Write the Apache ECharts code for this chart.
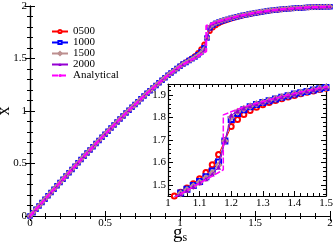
<!DOCTYPE html>
<html><head><meta charset="utf-8">
<script src="https://cdn.jsdelivr.net/npm/echarts@6/dist/echarts.min.js"></script>
<style>html,body{margin:0;padding:0;background:#fff}#c{width:335px;height:249px}</style>
</head><body><div id="c"></div>
<script>
// g_s grid of the simulation points
const gs = [0,0.02,0.04,0.06,0.08,0.10,0.12,0.14,0.16,0.18,
0.20,0.22,0.24,0.26,0.28,0.30,0.32,0.34,0.36,0.38,
0.40,0.42,0.44,0.46,0.48,0.50,0.52,0.54,0.56,0.58,
0.60,0.62,0.64,0.66,0.68,0.70,0.72,0.74,0.76,0.78,
0.80,0.82,0.84,0.86,0.88,0.90,0.92,0.94,0.96,0.98,
1.00,1.02,1.04,1.06,1.08,1.10,1.12,1.14,1.16,1.18,
1.20,1.22,1.24,1.26,1.28,1.30,1.32,1.34,1.36,1.38,
1.40,1.42,1.44,1.46,1.48,1.50,1.52,1.54,1.56,1.58,
1.60,1.62,1.64,1.66,1.68,1.70,1.72,1.74,1.76,1.78,
1.80,1.82,1.84,1.86,1.88,1.90,1.92,1.94,1.96,1.98,2.00];

const x0500 = [0,0.032,0.064,0.096,0.128,0.160,0.192,0.224,0.255,0.287,
0.319,0.350,0.382,0.413,0.444,0.475,0.506,0.537,0.568,0.599,
0.629,0.659,0.690,0.720,0.749,0.779,0.808,0.837,0.866,0.895,
0.924,0.952,0.980,1.008,1.035,1.062,1.089,1.116,1.142,1.168,
1.194,1.219,1.244,1.268,1.292,1.317,1.340,1.362,1.384,1.405,
1.428,1.450,1.467,1.486,1.505,1.527,1.555,1.590,1.635,1.697,
1.760,1.792,1.814,1.832,1.846,1.857,1.867,1.876,1.884,1.892,
1.899,1.906,1.913,1.919,1.925,1.931,1.936,1.941,1.946,1.950,
1.954,1.958,1.961,1.964,1.967,1.970,1.973,1.975,1.977,1.979,
1.981,1.983,1.985,1.986,1.988,1.989,1.990,1.991,1.992,1.993,1.994];

const x1000 = [0,0.032,0.064,0.096,0.128,0.160,0.192,0.224,0.255,0.287,
0.319,0.350,0.382,0.413,0.444,0.475,0.506,0.537,0.568,0.599,
0.629,0.659,0.690,0.720,0.749,0.779,0.808,0.837,0.866,0.895,
0.924,0.952,0.980,1.008,1.035,1.062,1.089,1.116,1.142,1.168,
1.194,1.219,1.244,1.268,1.292,1.317,1.340,1.362,1.384,1.405,
1.426,1.447,1.463,1.480,1.497,1.515,1.536,1.562,1.602,1.695,
1.792,1.818,1.835,1.848,1.858,1.867,1.875,1.883,1.891,1.898,
1.905,1.911,1.917,1.923,1.929,1.934,1.939,1.944,1.948,1.952,
1.956,1.960,1.963,1.966,1.969,1.972,1.974,1.976,1.978,1.980,
1.982,1.984,1.985,1.987,1.988,1.989,1.990,1.991,1.992,1.993,1.994];

const x1500 = [0,0.032,0.064,0.096,0.128,0.160,0.192,0.224,0.255,0.287,
0.319,0.350,0.382,0.413,0.444,0.475,0.506,0.537,0.568,0.599,
0.629,0.659,0.690,0.720,0.749,0.779,0.808,0.837,0.866,0.895,
0.924,0.952,0.980,1.008,1.035,1.062,1.089,1.116,1.142,1.168,
1.194,1.219,1.244,1.268,1.292,1.317,1.340,1.362,1.384,1.405,
1.425,1.445,1.461,1.477,1.494,1.511,1.530,1.553,1.588,1.695,
1.802,1.826,1.840,1.851,1.861,1.869,1.877,1.885,1.892,1.899,
1.906,1.912,1.918,1.924,1.930,1.935,1.940,1.945,1.949,1.953,
1.957,1.960,1.963,1.966,1.969,1.972,1.974,1.976,1.978,1.980,
1.982,1.984,1.986,1.987,1.988,1.989,1.990,1.991,1.992,1.993,1.994];

const x2000 = [0,0.032,0.064,0.096,0.128,0.160,0.192,0.224,0.255,0.287,
0.319,0.350,0.382,0.413,0.444,0.475,0.506,0.537,0.568,0.599,
0.629,0.659,0.690,0.720,0.749,0.779,0.808,0.837,0.866,0.895,
0.924,0.952,0.980,1.008,1.035,1.062,1.089,1.116,1.142,1.168,
1.194,1.219,1.244,1.268,1.292,1.317,1.340,1.362,1.384,1.405,
1.425,1.444,1.460,1.476,1.492,1.509,1.527,1.548,1.578,1.695,
1.810,1.830,1.843,1.853,1.862,1.870,1.878,1.886,1.893,1.900,
1.907,1.913,1.919,1.925,1.931,1.936,1.941,1.945,1.949,1.953,
1.957,1.961,1.964,1.967,1.970,1.972,1.975,1.977,1.979,1.981,
1.983,1.984,1.986,1.987,1.988,1.989,1.990,1.991,1.992,1.993,1.994];

// analytical curve (with the jump)
const anaG = [0,0.02,0.04,0.06,0.08,0.10,0.12,0.14,0.16,0.18,
0.20,0.22,0.24,0.26,0.28,0.30,0.32,0.34,0.36,0.38,
0.40,0.42,0.44,0.46,0.48,0.50,0.52,0.54,0.56,0.58,
0.60,0.62,0.64,0.66,0.68,0.70,0.72,0.74,0.76,0.78,
0.80,0.82,0.84,0.86,0.88,0.90,0.92,0.94,0.96,0.98,
1.00,1.02,1.04,1.06,1.08,1.10,1.12,1.14,1.16,1.175,1.175,
1.20,1.22,1.24,1.26,1.28,1.30,1.32,1.34,1.36,1.38,
1.40,1.42,1.44,1.46,1.48,1.50,1.52,1.54,1.56,1.58,
1.60,1.62,1.64,1.66,1.68,1.70,1.72,1.74,1.76,1.78,
1.80,1.82,1.84,1.86,1.88,1.90,1.92,1.94,1.96,1.98,2.00];
const anaX = [0,0.032,0.064,0.096,0.128,0.160,0.192,0.224,0.255,0.287,
0.319,0.350,0.382,0.413,0.444,0.475,0.506,0.537,0.568,0.599,
0.629,0.659,0.690,0.720,0.749,0.779,0.808,0.837,0.866,0.895,
0.924,0.952,0.980,1.008,1.035,1.062,1.089,1.116,1.142,1.168,
1.194,1.219,1.244,1.268,1.292,1.317,1.340,1.362,1.384,1.405,
1.425,1.443,1.459,1.475,1.491,1.507,1.523,1.539,1.555,1.567,1.812,
1.826,1.837,1.847,1.856,1.864,1.872,1.880,1.887,1.894,1.901,
1.908,1.914,1.920,1.926,1.932,1.937,1.942,1.946,1.950,1.954,
1.958,1.961,1.964,1.967,1.970,1.973,1.975,1.977,1.979,1.981,
1.983,1.985,1.986,1.988,1.989,1.990,1.991,1.992,1.993,1.994,1.995];

const insetYLabels = [1.5, 1.6, 1.7, 1.8, 1.9];
const insetYMinor = [1.46,1.48,1.52,1.54,1.56,1.58,1.62,1.64,1.66,1.68,1.72,1.74,1.76,1.78,1.82,1.84,1.86,1.88,1.92,1.94];

const names = ['0500','1000','1500','2000','Analytical'];
const colors = ['#ff0000','#0000ff','#bc8f8f','#9400d3','#ff00ff'];
const symbols = ['emptyCircle','emptyRect','emptyDiamond','triangle','none'];
const values = [x0500, x1000, x1500, x2000];

const FONT = 'Liberation Serif';
const lbl = {fontFamily: FONT, fontSize: 11, color: '#000', hideOverlap:false};
const axLine = {show: true, lineStyle: {color: '#000', width: 1.2}};

function pairs(g, v){ return g.map((a,i)=>[a, v[i]]); }

function mkX(grid, pos, min, max, interval, showLabel, extra){
  return Object.assign({
    type:'value', gridIndex: grid, position: pos, min, max, interval,
    axisLine: axLine, splitLine:{show:false},
    axisTick:{show:true, inside:true, length:5, lineStyle:{color:'#000'}},
    minorTick:{show:true, splitNumber:5, length:3, lineStyle:{color:'#000'}},
    axisLabel: Object.assign({show: showLabel, margin: 2}, lbl)
  }, extra||{});
}

const series = [];
[0,1].forEach(k=>{
  for(let i=0;i<4;i++){
    series.push({
      name: names[i], type:'line', xAxisIndex: k===0?0:2, yAxisIndex: k===0?0:2,
      data: pairs(gs, values[i]), symbol: symbols[i], symbolSize: k===0?3.5:5,
      lineStyle:{color: colors[i], width:1}, itemStyle:{color: colors[i], borderWidth:1},
      animation:false, clip:true, z: 2+i
    });
  }
  series.push({
    name: names[4], type:'line', xAxisIndex: k===0?0:2, yAxisIndex: k===0?0:2,
    data: pairs(anaG, anaX), symbol:'none', showSymbol:false,
    lineStyle:{color: colors[4], width: k===0?2:1.5, type:[6,2]}, itemStyle:{color: colors[4]},
    animation:false, clip:true, z: 10
  });
});

const option = {
  animation:false,
  backgroundColor:'#fff',
  textStyle:{fontFamily: FONT},
  grid:[
    {left:30, right:5, top:6, bottom:33, containLabel:false, outerBoundsMode:'none'},
    {left:168, right:9, top:84, bottom:53, containLabel:false, outerBoundsMode:'none'}
  ],
  legend:{
    orient:'vertical', left:46, top:21, itemWidth:16, itemHeight:4, itemGap:0,
    data: names,
    textStyle:{fontFamily: FONT, fontSize:11, color:'#000', lineHeight:11}
  },
  xAxis:[
    mkX(0,'bottom',0,2,0.5,true,{
      name:'{g|g}{s|s}', nameLocation:'middle', nameGap:7, nameMoveOverlap:false,
      nameTextStyle:{rich:{g:{fontFamily:FONT,fontSize:19,color:'#000'}, s:{fontFamily:FONT,fontSize:12,color:'#000',padding:[9,0,0,0]}}}
    }),
    mkX(0,'top',0,2,0.5,false),
    mkX(1,'bottom',1,1.5,0.1,true),
    mkX(1,'top',1,1.5,0.1,false)
  ],
  yAxis:[
    mkX(0,'left',0,2,0.5,true,{
      name:'x', nameLocation:'middle', nameGap:17, nameRotate:90, nameMoveOverlap:false,
      nameTextStyle:{fontFamily:FONT,fontSize:18,color:'#000'},
      axisLabel:Object.assign({show:true, margin:3}, lbl)
    }),
    mkX(0,'right',0,2,0.5,false),
    {type:'value', gridIndex:1, position:'left', min:1.45, max:1.95,
      axisLine:axLine, splitLine:{show:false},
      axisTick:{show:true, inside:true, length:5, customValues: insetYLabels, lineStyle:{color:'#000'}},
      axisLabel:Object.assign({show:true, margin:2, customValues: insetYLabels, formatter: v=>v.toFixed(1)}, lbl)},
    {type:'value', gridIndex:1, position:'left', min:1.45, max:1.95,
      axisLine:{show:false}, splitLine:{show:false}, axisLabel:{show:false},
      axisTick:{show:true, inside:true, length:3, customValues: insetYMinor, lineStyle:{color:'#000'}}},
    {type:'value', gridIndex:1, position:'right', min:1.45, max:1.95,
      axisLine:axLine, splitLine:{show:false}, axisLabel:{show:false},
      axisTick:{show:true, inside:true, length:5, customValues: insetYLabels, lineStyle:{color:'#000'}}},
    {type:'value', gridIndex:1, position:'right', min:1.45, max:1.95,
      axisLine:{show:false}, splitLine:{show:false}, axisLabel:{show:false},
      axisTick:{show:true, inside:true, length:3, customValues: insetYMinor, lineStyle:{color:'#000'}}}
  ],
  series
};
const chart = echarts.init(document.getElementById('c'), null, {renderer:'canvas'});
chart.setOption(option);
</script></body></html>
